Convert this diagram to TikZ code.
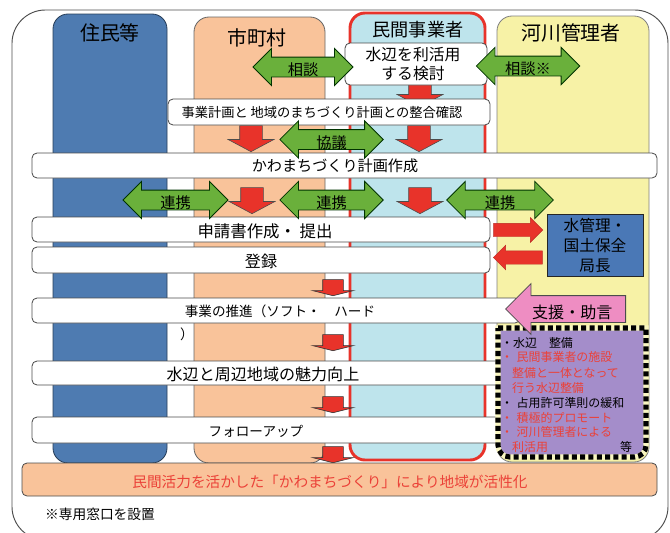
\documentclass[tikz,border=0pt]{standalone}
\usepackage{fontspec}
\setmainfont{Noto Sans CJK JP}
\usetikzlibrary{shapes.arrows}
\definecolor{laneblue}{HTML}{4E7BB1}
\definecolor{lanepeach}{HTML}{F9C39A}
\definecolor{lanecyan}{HTML}{BEE4EC}
\definecolor{laneyellow}{HTML}{F7F2A6}
\definecolor{arrowgreen}{HTML}{6AB03B}
\definecolor{arrowred}{HTML}{E8332A}
\definecolor{textred}{HTML}{EB4138}
\definecolor{pinkfill}{HTML}{EE8DC2}
\definecolor{bossblue}{HTML}{4A78B6}
\definecolor{purplefill}{HTML}{A48DCA}
\newcommand\fs[1]{\fontsize{#1}{#1}\selectfont}
\begin{document}
\begin{tikzpicture}[x=0.03cm,y=-0.03cm,
  lane/.style={line width=0.7pt,rounded corners=0.45cm},
  band/.style={draw=black!70,fill=white,line width=0.7pt,rounded corners=0.15cm},
  talk/.style={double arrow,draw=green!20!black,fill=arrowgreen,line width=0.7pt,
    inner sep=0pt,text height=0.54cm,text depth=0.03cm,
    double arrow head extend=0.26cm,font=\fs{13}},
  bigred/.style={single arrow,rotate=270,anchor=tip,draw=black!70,fill=arrowred,
    line width=0.5pt,inner sep=0pt,text height=0.66cm,text depth=0pt,
    single arrow head extend=0.35cm,single arrow tip angle=124,minimum height=0.78cm},
  smallred/.style={single arrow,rotate=270,anchor=tip,draw=black!80,fill=arrowred,
    line width=0.5pt,inner sep=0pt,text height=0.6cm,text depth=0pt,
    single arrow head extend=0.3cm,single arrow tip angle=152,minimum height=0.48cm},
  sidered/.style={single arrow,anchor=tip,draw=arrowred!80!black,fill=arrowred,
    line width=0.4pt,inner sep=0pt,text height=0.39cm,text depth=0pt,
    single arrow head extend=0.165cm,minimum height=1.47cm},
  item/.style={anchor=west,inner sep=0pt,font=\fs{10.2}}]
\useasboundingbox (0,0) rectangle (670,533);
\begin{scope}
\clip (0,0) rectangle (670,533);
\draw[draw=black!70,line width=0.8pt,rounded corners=1cm] (12,10) rectangle (668,540);
\end{scope}
% lanes
\draw[lane,fill=laneblue,draw=laneblue!50!black] (53,14) rectangle (167,463);
\draw[lane,fill=lanepeach,draw=black!60] (194,17) rectangle (325,463);
\draw[lane,fill=laneyellow,draw=black!50] (497,16) rectangle (649,462);
\draw[lane,fill=lanecyan,draw=arrowred,line width=2.5pt] (350,13) rectangle (485,460);
\node[font=\fs{17}] (residents) at (110,33) {住民等};
\node[font=\fs{17}] (city) at (257,38) {市町村};
\node[font=\fs{15.5}] (private) at (418,30) {民間事業者};
\node[font=\fs{17}] (river) at (571,33) {河川管理者};
% red arrows down the lanes
\node[bigred,minimum height=0.66cm] (down0) at (420,107) {};
\node[bigred] (down1) at (251,152) {};
\node[bigred] (down2) at (419,152) {};
\node[bigred] (down3) at (252,214) {};
\node[bigred] (down4) at (420,214) {};
\foreach \y [count=\i] in {296,351,413,463}
  \node[smallred] (nudge\i) at (333,\y) {};
% steps
\draw[band] (345,43) rectangle (487,85);
\node[align=center,font=\fontsize{13.5}{16.5}\selectfont] (study) at (413,64) {水辺を利活用\\する検討};
\draw[band] (168,99) rectangle (490,125);
\node[font=\fs{11.3}] (check) at (322,112) {事業計画と 地域のまちづくり計画との整合確認};
\draw[band] (32,153) rectangle (657,178);
\node[font=\fs{12.9}] (plan) at (335,166) {かわまちづくり計画作成};
\draw[band] (32,217) rectangle (490,242);
\node[font=\fs{14}] (apply) at (265,231) {申請書作成・ 提出};
\draw[band] (32,247) rectangle (490,273);
\node[font=\fs{13.7}] (register) at (261,261) {登録};
\draw[band] (32,298) rectangle (520,323);
\node[font=\fs{11.6}] (promote) at (280,311) {事業の推進（ソフト・　ハード};
\node[font=\fs{11.6}] (paren) at (187,334) {）};
\draw[band] (32,361) rectangle (505,385);
\node[font=\fs{13.7}] (charm) at (263,374) {水辺と周辺地域の魅力向上};
\draw[band] (32,417) rectangle (505,443);
\node[font=\fs{11.6}] (follow) at (256,431) {フォローアップ};
\draw[band,fill=lanepeach] (22,463) rectangle (657,496);
\node[font=\fs{12.5},text=textred] (result) at (330,482) {民間活力を活かした「かわまちづくり」により地域が活性化};
\node[font=\fs{11.7}] (note) at (100,514) {※専用窓口を設置};
% bureau
\node[draw=black!85,fill=bossblue,line width=0.8pt,minimum width=2.88cm,minimum height=1.83cm,
  align=center,font=\fontsize{13.4}{17}\selectfont] (boss) at (595,245.5) {水管理・\\国土保全\\局長};
\node[sidered] (toboss) at (543,230) {};
\node[sidered,shape border rotate=180] (fromboss) at (493,257.5) {};
% river works
\draw[fill=purplefill,draw=laneyellow!70!white,line width=4.3pt]
  (498,328) -- (646,328) {[rounded corners=0.35cm] -- (646,457) -- (498,457)} -- cycle;
\draw[draw=black,line width=4.3pt,dash pattern=on 4.3pt off 2.8pt]
  (498,328) -- (646,328) {[rounded corners=0.35cm] -- (646,457) -- (498,457)} -- cycle;
\node[item] (w1) at (501,343) {・水辺　整備};
\node[item,text=textred] (w2) at (501,357) {・\hspace{3pt}民間事業者の施設};
\node[item,text=textred] (w3) at (512,373) {整備と一体となって};
\node[item,text=textred] (w4) at (512,388) {行う水辺整備};
\node[item] (w5) at (501,403) {・\hspace{3pt}占用許可準則の緩和};
\node[item,text=textred] (w6) at (501,418) {・\hspace{3pt}積極的プロモート};
\node[item,text=textred] (w7) at (501,432) {・\hspace{3pt}河川管理者による};
\node[item,text=textred] (w8) at (512,447) {利活用};
\node[item] (w9) at (620,447) {等};
\node[single arrow,shape border rotate=180,anchor=tip,draw=black!70,fill=pinkfill,
  line width=0.7pt,inner sep=0pt,text height=0.66cm,text depth=0.12cm,
  single arrow head extend=0.36cm,minimum height=3.6cm,font=\fs{13.7}] (support) at (505,309) {支援・助言};
% consultations
\node[talk,minimum height=3cm] (talkcity) at (303,67) {相談};
\node[talk,minimum height=3.1cm] (talkriver) at (528,66) {相談※};
\node[talk,minimum height=3.1cm] (confer) at (331.5,139.5) {協議};
\node[talk,minimum height=3.15cm] (linkleft) at (175.5,200) {連携};
\node[talk,minimum height=3.1cm] (linkmid) at (331.5,200) {連携};
\node[talk,minimum height=3.2cm] (linkright) at (500,200) {連携};
\end{tikzpicture}
\end{document}
